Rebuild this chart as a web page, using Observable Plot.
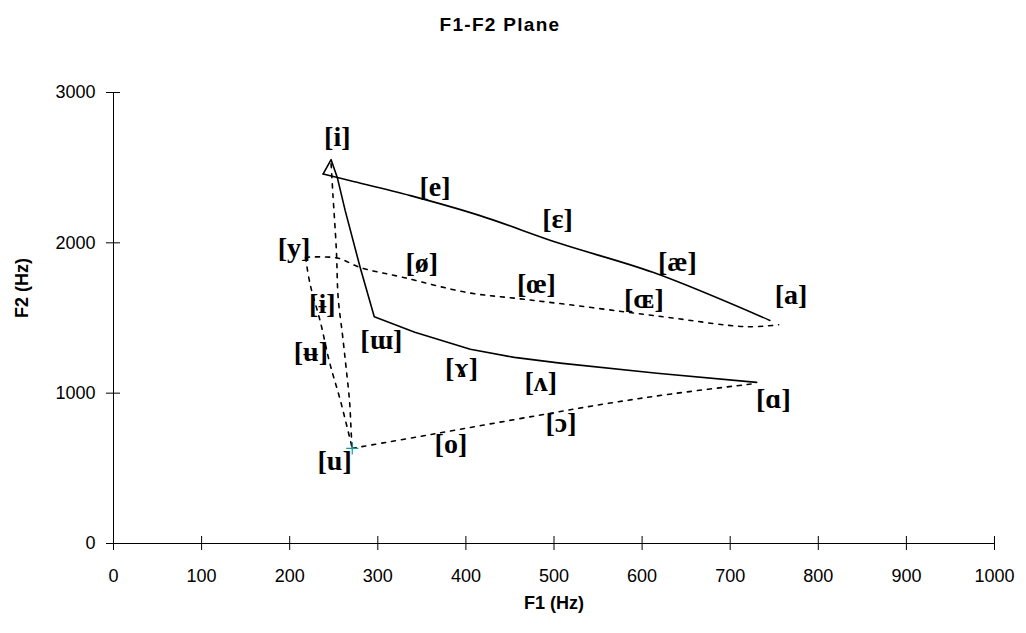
<!DOCTYPE html>
<html>
<head>
<meta charset="utf-8">
<script src="https://cdn.jsdelivr.net/npm/d3@7"></script>
<script src="https://cdn.jsdelivr.net/npm/@observablehq/plot@0.6"></script>
<style>
  body { margin: 0; background: #fff; }
  #title { width: 1000px; height: 50px; line-height: 50px; text-align: center;
           font-family: "Liberation Sans", Arial, sans-serif; font-weight: bold;
           font-size: 19px; letter-spacing: 1.3px; color: #000; }
  #chart svg { display: block; }
</style>
</head>
<body>
<div id="title">F1-F2 Plane</div>
<div id="chart"></div>
<script>
// Axis ticks
const xTicks = [0, 100, 200, 300, 400, 500, 600, 700, 800, 900, 1000];
const yTicks = [0, 1000, 2000, 3000];

// Solid: front unrounded [i]-[e]-[ɛ]-[æ]-[a]
const frontUnroundedF1 = [238, 269, 337, 416, 507, 613, 745];
const frontUnroundedF2 = [2458, 2413, 2314, 2181, 1995, 1802, 1484];

// Solid: [i] -> back unrounded [ɯ]-[ɤ]-[ʌ]-[ɑ]
const backUnroundedF1 = [238, 247, 254, 263, 280, 296, 342, 405, 455, 507, 617, 730];
const backUnroundedF2 = [2458, 2553, 2435, 2214, 1836, 1508, 1405, 1292, 1238, 1200, 1132, 1072];

// Dotted: front rounded [y]-[ø]-[œ]-[ɶ]
const frontRoundedF1 = [218, 254, 280, 329, 402, 458, 515, 579, 632, 719, 755];
const frontRoundedF2 = [1904, 1899, 1836, 1770, 1669, 1630, 1590, 1542, 1502, 1442, 1455];

// Dotted: [y]-[ʉ]-[u]
const roundedHighF1 = [218, 223, 235, 245, 258, 271];
const roundedHighF2 = [1904, 1729, 1470, 1211, 941, 633];

// Dotted: [i]-[ɨ]-[u]
const unroundedHighF1 = [247, 249, 253, 255, 260, 264, 268, 270, 271];
const unroundedHighF2 = [2526, 2327, 1948, 1636, 1384, 1171, 941, 716, 633];

// Dotted: back rounded [u]-[o]-[ɔ]-[ɑ]
const backRoundedF1 = [271, 362, 480, 558, 636, 730];
const backRoundedF2 = [633, 727, 850, 929, 997, 1065];

// Marker at [u]
const markerF1 = [271];
const markerF2 = [633];

// Vowel labels
const vowelLabels = ["[i]", "[e]", "[ɛ]", "[æ]", "[a]", "[y]", "[ø]", "[œ]", "[ɶ]",
                     "[ɨ]", "[ʉ]", "[ɯ]", "[ɤ]", "[ʌ]", "[ɑ]", "[ɔ]", "[o]", "[u]"];
const labelF1 = [254, 365, 504, 640, 769, 205, 350, 480, 602,
                 237, 224, 304, 395, 485, 749, 508, 383, 251];
const labelF2 = [2706, 2374, 2161, 1869, 1650, 1968, 1865, 1726, 1628,
                 1590, 1271, 1351, 1165, 1072, 959, 799, 660, 547];

const toRows = (xs, ys) => xs.map((x, i) => ({F1: x, F2: ys[i]}));
const labels = vowelLabels.map((t, i) => ({label: t, F1: labelF1[i], F2: labelF2[i]}));

const solidStyle = {x: "F1", y: "F2", stroke: "#000", strokeWidth: 1.6};
const dottedStyle = {x: "F1", y: "F2", stroke: "#000", strokeWidth: 1.6, strokeDasharray: "4,6", curve: "catmull-rom"};

const chart = Plot.plot({
  width: 1026,
  height: 583,
  marginLeft: 113,
  marginRight: 32,
  marginTop: 42,
  marginBottom: 90,
  style: {fontFamily: "'Liberation Sans', Arial, sans-serif", color: "#000", background: "#fff", overflow: "visible"},
  x: {domain: [0, 1000]},
  y: {domain: [0, 3000]},
  marks: [
    Plot.ruleX([0], {stroke: "#000", strokeWidth: 1}),
    Plot.ruleY([0], {stroke: "#000", strokeWidth: 1}),
    Plot.ruleY(yTicks, {x1: 0, x2: 0, insetLeft: -7, insetRight: -7, stroke: "#000"}),
    Plot.ruleX(xTicks, {y1: 0, y2: 0, insetTop: -7, insetBottom: -7, stroke: "#000"}),
    Plot.axisY({ticks: yTicks, tickSize: 0, tickPadding: 18, fontSize: 18, label: null, tickFormat: d => String(d)}),
    Plot.axisX({ticks: xTicks, tickSize: 0, tickPadding: 26, fontSize: 18, label: null, tickFormat: d => String(d)}),
    Plot.text(["F1 (Hz)"], {frameAnchor: "bottom", dy: 65, text: d => d, fontSize: 18, fontWeight: "bold"}),
    Plot.text(["F2 (Hz)"], {frameAnchor: "left", dx: -91, rotate: -90, text: d => d, fontSize: 18, fontWeight: "bold"}),
    Plot.line(toRows(frontUnroundedF1, frontUnroundedF2), {...solidStyle, curve: "catmull-rom"}),
    Plot.line(toRows(backUnroundedF1, backUnroundedF2), {...solidStyle, curve: "linear"}),
    Plot.line(toRows(frontRoundedF1, frontRoundedF2), dottedStyle),
    Plot.line(toRows(roundedHighF1, roundedHighF2), dottedStyle),
    Plot.line(toRows(unroundedHighF1, unroundedHighF2), dottedStyle),
    Plot.line(toRows(backRoundedF1, backRoundedF2), dottedStyle),
    Plot.dot(toRows(markerF1, markerF2), {x: "F1", y: "F2", symbol: "plus", r: 4, stroke: "#1a9a9a", strokeWidth: 1.2}),
    Plot.text(labels, {x: "F1", y: "F2", text: "label", fontSize: 28, fontWeight: "bold",
      fontFamily: "'Liberation Serif', 'DejaVu Serif', serif", fill: "#000"})
  ]
});
document.getElementById("chart").appendChild(chart);
</script>
</body>
</html>
